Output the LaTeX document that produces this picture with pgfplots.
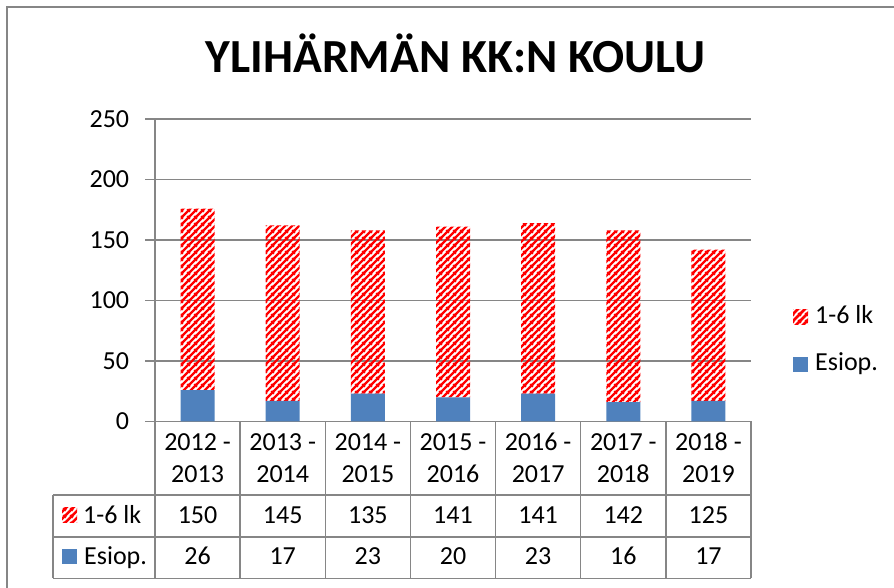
\documentclass[border=0pt]{standalone}
\usepackage{pgfplots}
\pgfplotsset{compat=1.18}
\usepackage{pgfplotstable}
\usepackage{fontspec}
\setmainfont{Carlito}
\usetikzlibrary{patterns}
\definecolor{xlblue}{RGB}{79,129,189}
\definecolor{xlgray}{RGB}{134,134,134}
\pgfdeclarepatternformonly{xlstripes}{\pgfqpoint{0bp}{0bp}}{\pgfqpoint{6.5bp}{6.5bp}}{\pgfqpoint{6.5bp}{6.5bp}}{%
  \pgfsetlinewidth{2.6bp}%
  \pgfpathmoveto{\pgfqpoint{-1bp}{-1bp}}\pgfpathlineto{\pgfqpoint{7.5bp}{7.5bp}}%
  \pgfpathmoveto{\pgfqpoint{-1bp}{5.5bp}}\pgfpathlineto{\pgfqpoint{1bp}{7.5bp}}%
  \pgfpathmoveto{\pgfqpoint{5.5bp}{-1bp}}\pgfpathlineto{\pgfqpoint{7.5bp}{1bp}}%
  \pgfusepath{stroke}}

\pgfplotstableread{
a b lk esiop
2012 2013 150 26
2013 2014 145 17
2014 2015 135 23
2015 2016 141 20
2016 2017 141 23
2017 2018 142 16
2018 2019 125 17
}\datatable

\begin{document}
\begin{tikzpicture}[x=1bp,y=1bp]
\useasboundingbox (0,0) rectangle (894,588);
\draw[xlgray, line width=1.5bp] (7,0) -- (7,581) -- (894,581);
\node[anchor=base, inner sep=0pt, font=\fontsize{47.5bp}{50bp}\selectfont\bfseries] at (455.5,515) {YLIHÄRMÄN KK:N KOULU};
\begin{axis}[
  at={(155bp,166.5bp)}, anchor=south west,
  scale only axis, width=596bp, height=302.5bp,
  xmin=-0.5, xmax=6.5, ymin=0, ymax=250,
  ytick={0,50,...,250}, xtick=\empty,
  ybar stacked, bar width=34bp,
  axis x line*=bottom, axis y line*=left,
  axis line style={xlgray, line width=1.5bp, -},
  ymajorgrids, major grid style={xlgray, line width=1.3bp},
  tick align=outside, major tick length=10bp,
  tick style={xlgray, line width=1.3bp},
  ticklabel style={font=\fontsize{26bp}{30bp}\selectfont},
  /pgf/number format/assume math mode=true,
  yticklabel style={inner sep=0pt, anchor=east, xshift=-15.7bp},
  legend image code/.code={\fill[#1] (0bp,-7.5bp) rectangle (15bp,7.5bp);},
  reverse legend,
  legend cell align=left,
  legend style={draw=none, fill=none, at={(1.0705,0.2661)}, anchor=west,
    inner sep=0pt, row sep=26bp, column sep=7bp,
    font=\fontsize{26bp}{30bp}\selectfont,
    nodes={inner sep=0pt, text height=17bp, text depth=4bp}},
]
\addplot[fill=xlblue, draw=none] table[x expr=\coordindex, y=esiop]{\datatable};
\addlegendentry{Esiop.}
\addplot[pattern=xlstripes, pattern color=red, draw=none] table[x expr=\coordindex, y=lk]{\datatable};
\addlegendentry{1-6 lk}
\end{axis}
% data table grid
\begin{scope}[xlgray, line width=1.5bp]
\draw (53,93) -- (751,93);
\draw (53,51) -- (751,51);
\draw (53,9.5) -- (751,9.5);
\draw (53,93) -- (53,9.5);
\foreach \k in {0,...,7}{
  \pgfmathsetmacro{\vx}{155+\k*596/7}
  \draw (\vx,166.5) -- (\vx,9.5);
}
\end{scope}
% row headers with keys
\fill[pattern=xlstripes, pattern color=red] (62,65) rectangle (77,80);
\fill[xlblue] (62,24) rectangle (77,39);
\begin{scope}[font=\fontsize{26bp}{30bp}\selectfont]
\node[anchor=base west, inner sep=0pt] at (83,64) {1-6 lk};
\node[anchor=base west, inner sep=0pt] at (84,23) {Esiop.};
\foreach \i in {0,...,6}{
  \pgfmathsetmacro{\cx}{155+(\i+0.5)*596/7}
  \pgfplotstablegetelem{\i}{a}\of\datatable \let\ya\pgfplotsretval
  \pgfplotstablegetelem{\i}{b}\of\datatable \let\yb\pgfplotsretval
  \pgfplotstablegetelem{\i}{lk}\of\datatable \let\vlk\pgfplotsretval
  \pgfplotstablegetelem{\i}{esiop}\of\datatable \let\ves\pgfplotsretval
  \node[anchor=base, inner sep=0pt] at (\cx,137.3) {\ya{} -};
  \node[anchor=base, inner sep=0pt] at (\cx,105.3) {\yb};
  \node[anchor=base, inner sep=0pt] at (\cx,64) {\vlk};
  \node[anchor=base, inner sep=0pt] at (\cx,23) {\ves};
}
\end{scope}
\end{tikzpicture}
\end{document}
